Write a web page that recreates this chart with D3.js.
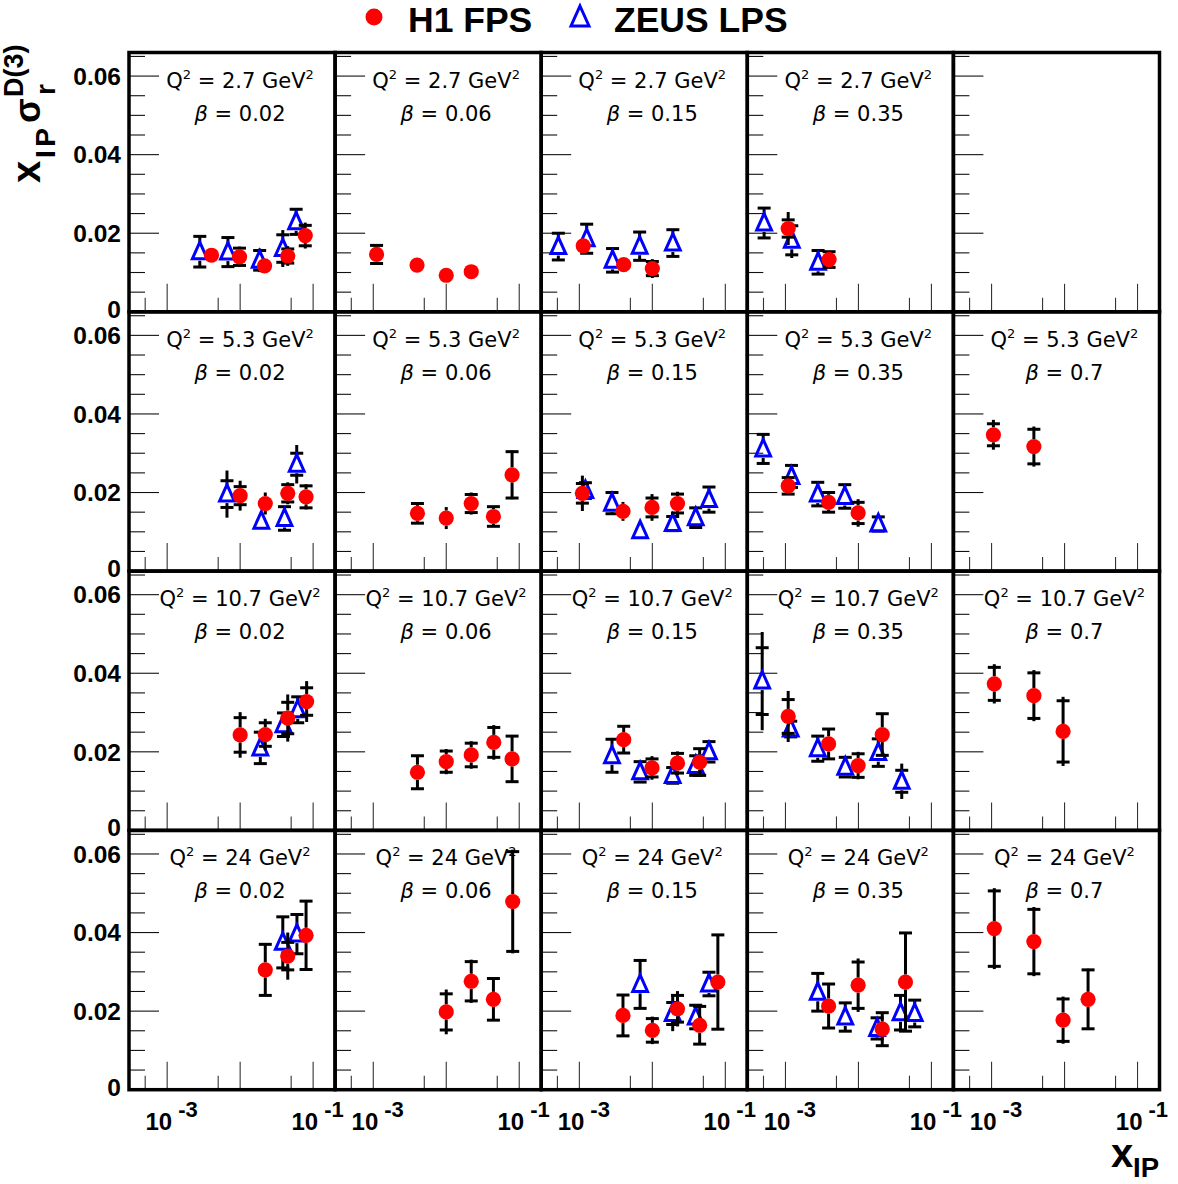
<!DOCTYPE html>
<html><head><meta charset="utf-8">
<script src="https://cdn.jsdelivr.net/npm/d3@7"></script>
<style>body{margin:0;background:#fff}</style>
</head><body><svg id="c" width="1178" height="1184" xmlns="http://www.w3.org/2000/svg"></svg>
<script>
// ---- categories / tick labels ----
const q2Labels = ["2.7", "5.3", "10.7", "24"];
const betaLabels = ["0.02", "0.06", "0.15", "0.35", "0.7"];
const yTickValues = [0, 0.02, 0.04, 0.06];
const yTickLabels = ["0", "0.02", "0.04", "0.06"];
const xLabelTicks = [1e-3, 1e-1];
const xLabelExponents = ["-3", "-1"];
const seriesNames = ["H1 FPS", "ZEUS LPS"];

// ---- H1 FPS: [betaIndex, xIP, value, statErr, totErr] ----
const h1_q27 = [
  [0, 4.05e-3, 0.0144, 0.0010, 0.0010], [0, 9.8e-3, 0.0140, 0.0022, 0.0026], [0, 0.0216, 0.0117, 0.0012, 0.0015],
  [0, 0.0449, 0.0142, 0.0018, 0.0025], [0, 0.078, 0.0194, 0.0026, 0.0033],
  [1, 1.11e-3, 0.0146, 0.0023, 0.0023], [1, 3.98e-3, 0.0119, 0.0008, 0.0008], [1, 0.010, 0.0093, 0.0007, 0.0007], [1, 0.022, 0.0102, 0.0008, 0.0008],
  [2, 1.13e-3, 0.0168, 0.0010, 0.0010], [2, 4.05e-3, 0.0120, 0.0010, 0.0010], [2, 0.010, 0.0110, 0.0018, 0.0024],
  [3, 1.09e-3, 0.0212, 0.0022, 0.0042], [3, 3.96e-3, 0.0133, 0.0020, 0.0020]
];
const h1_q53 = [
  [0, 0.010, 0.0192, 0.0023, 0.0038], [0, 0.0221, 0.0172, 0.0010, 0.0028], [0, 0.0449, 0.0198, 0.0022, 0.0028], [0, 0.080, 0.0189, 0.0028, 0.0032],
  [1, 4.03e-3, 0.0147, 0.0025, 0.0025], [1, 0.010, 0.0135, 0.0010, 0.0028], [1, 0.022, 0.0172, 0.0023, 0.0028], [1, 0.0443, 0.0139, 0.0025, 0.0025], [1, 0.0798, 0.0245, 0.0059, 0.0062],
  [2, 1.10e-3, 0.0198, 0.0025, 0.0045], [2, 3.96e-3, 0.0152, 0.0010, 0.0024], [2, 9.9e-3, 0.0162, 0.0024, 0.0034], [2, 0.0221, 0.0172, 0.0024, 0.0030],
  [3, 1.09e-3, 0.0217, 0.0021, 0.0021], [3, 3.9e-3, 0.0175, 0.0025, 0.0025], [3, 9.9e-3, 0.0148, 0.0027, 0.0035],
  [4, 1.06e-3, 0.0347, 0.0028, 0.0038], [4, 3.8e-3, 0.0317, 0.0044, 0.0051]
];
const h1_q107 = [
  [0, 0.010, 0.0243, 0.0044, 0.0058], [0, 0.0221, 0.0244, 0.0030, 0.0040], [0, 0.0449, 0.0286, 0.0040, 0.0060], [0, 0.0815, 0.0328, 0.0035, 0.0052],
  [1, 4.03e-3, 0.0148, 0.0042, 0.0042], [1, 0.010, 0.0175, 0.0027, 0.0032], [1, 0.022, 0.0192, 0.0030, 0.0035], [1, 0.0448, 0.0224, 0.0038, 0.0044], [1, 0.0798, 0.0182, 0.0058, 0.0058],
  [2, 4.05e-3, 0.0231, 0.0034, 0.0034], [2, 9.9e-3, 0.0159, 0.0023, 0.0030], [2, 0.0221, 0.0171, 0.0025, 0.0030], [2, 0.0445, 0.0174, 0.0034, 0.0034],
  [3, 1.09e-3, 0.0290, 0.0043, 0.0065], [3, 3.9e-3, 0.0220, 0.0038, 0.0038], [3, 9.9e-3, 0.0165, 0.0030, 0.0035], [3, 0.0212, 0.0244, 0.0053, 0.0053],
  [4, 1.09e-3, 0.0373, 0.0042, 0.0050], [4, 3.8e-3, 0.0343, 0.0058, 0.0065], [4, 9.55e-3, 0.0252, 0.0078, 0.0088]
];
const h1_q24 = [
  [0, 0.0221, 0.0305, 0.0065, 0.0065], [0, 0.0449, 0.0340, 0.0035, 0.0060], [0, 0.080, 0.0393, 0.0087, 0.0087],
  [1, 0.010, 0.0198, 0.0046, 0.0057], [1, 0.022, 0.0276, 0.0050, 0.0055], [1, 0.0443, 0.0230, 0.0053, 0.0053], [1, 0.0814, 0.0479, 0.0127, 0.0132],
  [2, 3.96e-3, 0.0189, 0.0052, 0.0052], [2, 0.010, 0.0151, 0.0030, 0.0035], [2, 0.0221, 0.0206, 0.0034, 0.0045], [2, 0.0445, 0.0164, 0.0048, 0.0048], [2, 0.079, 0.0274, 0.0120, 0.0120],
  [3, 3.9e-3, 0.0213, 0.0056, 0.0056], [3, 9.9e-3, 0.0266, 0.0059, 0.0068], [3, 0.0212, 0.0154, 0.0042, 0.0042], [3, 0.0441, 0.0274, 0.0125, 0.0125],
  [4, 1.09e-3, 0.0410, 0.0096, 0.0103], [4, 3.8e-3, 0.0377, 0.0082, 0.0088], [4, 9.55e-3, 0.0177, 0.0054, 0.0060], [4, 0.021, 0.0230, 0.0075, 0.0078]
];

// ---- ZEUS LPS: [betaIndex, xIP, value, statErr, totErr] ----
const zeus_q27 = [
  [0, 2.8e-3, 0.0153, 0.0039, 0.0039], [0, 6.8e-3, 0.0152, 0.0037, 0.0037], [0, 0.0185, 0.0131, 0.0025, 0.0030], [0, 0.0384, 0.0161, 0.0035, 0.0047], [0, 0.0585, 0.0229, 0.0032, 0.0032],
  [2, 5.15e-4, 0.0166, 0.0034, 0.0034], [2, 1.26e-3, 0.0186, 0.0037, 0.0037], [2, 2.85e-3, 0.0131, 0.0030, 0.0030], [2, 6.7e-3, 0.0167, 0.0036, 0.0036], [2, 0.0191, 0.0175, 0.0034, 0.0034],
  [3, 5.1e-4, 0.0226, 0.0038, 0.0038], [3, 1.22e-3, 0.0182, 0.0037, 0.0045], [3, 2.8e-3, 0.0126, 0.0030, 0.0030]
];
const zeus_q53 = [
  [0, 6.6e-3, 0.0196, 0.0034, 0.0060], [0, 0.0195, 0.0127, 0.0008, 0.0008], [0, 0.0405, 0.0134, 0.0030, 0.0030], [0, 0.0596, 0.0272, 0.0028, 0.0049],
  [2, 1.21e-3, 0.0205, 0.0020, 0.0020], [2, 2.8e-3, 0.0173, 0.0027, 0.0027], [2, 6.8e-3, 0.0103, 0.0008, 0.0008], [2, 0.019, 0.0121, 0.0018, 0.0018], [2, 0.0393, 0.0136, 0.0025, 0.0025], [2, 0.0597, 0.0182, 0.0032, 0.0032],
  [3, 4.95e-4, 0.0311, 0.0037, 0.0037], [3, 1.21e-3, 0.0241, 0.0028, 0.0028], [3, 2.77e-3, 0.0196, 0.0030, 0.0030], [3, 6.5e-3, 0.0190, 0.0030, 0.0030], [3, 0.0187, 0.0120, 0.0018, 0.0018]
];
const zeus_q107 = [
  [0, 0.0189, 0.0210, 0.0040, 0.0040], [0, 0.0392, 0.0269, 0.0030, 0.0030], [0, 0.0615, 0.0307, 0.0033, 0.0033],
  [2, 2.8e-3, 0.0190, 0.0042, 0.0042], [2, 6.8e-3, 0.0149, 0.0026, 0.0026], [2, 0.019, 0.0140, 0.0020, 0.0020], [2, 0.0393, 0.0165, 0.0025, 0.0025], [2, 0.0597, 0.0200, 0.0026, 0.0026],
  [3, 4.8e-4, 0.0380, 0.0085, 0.0125], [3, 1.18e-3, 0.0258, 0.0020, 0.0020], [3, 2.77e-3, 0.0208, 0.0032, 0.0032], [3, 6.6e-3, 0.0161, 0.0025, 0.0025], [3, 0.0187, 0.0198, 0.0035, 0.0035], [3, 0.0392, 0.0125, 0.0028, 0.0045]
];
const zeus_q24 = [
  [0, 0.0384, 0.0375, 0.0065, 0.0065], [0, 0.060, 0.0396, 0.0050, 0.0050],
  [2, 6.8e-3, 0.0268, 0.0061, 0.0061], [2, 0.019, 0.0194, 0.0028, 0.0045], [2, 0.0393, 0.0185, 0.0030, 0.0030], [2, 0.0597, 0.0269, 0.0030, 0.0030],
  [3, 2.77e-3, 0.0248, 0.0048, 0.0048], [3, 6.6e-3, 0.0185, 0.0036, 0.0036], [3, 0.018, 0.0156, 0.0027, 0.0027], [3, 0.0377, 0.0196, 0.0044, 0.0044], [3, 0.059, 0.0194, 0.0034, 0.0034]
];

const h1Rows = [h1_q27, h1_q53, h1_q107, h1_q24];
const zeusRows = [zeus_q27, zeus_q53, zeus_q107, zeus_q24];
const emptyPanels = [[0, 4]];

// ---- layout ----
const svg = d3.select("#c");
const L = 129, T = 52.5, PW = 206.1, PH = 259.3;
const FONT = "'Liberation Sans', Arial, Helvetica, sans-serif";
const PFONT = "'DejaVu Sans', sans-serif";
const x = d3.scaleLog().domain([3e-4, 0.2]).range([0, PW]);
const y = d3.scaleLinear().domain([0, 0.066]).range([PH, 0]);

const triPath = "M0,-9.5L7.4,7L-7.4,7Z";
const triLegend = "M0,-11L9,9L-9,9Z";

function drawErrors(g, pts, halfMarker) {
  pts.forEach(p => {
    const px = x(p[1]), py = y(p[2]);
    const yT = y(p[2] + p[4]), yB = y(p[2] - p[4]);
    const sT = y(p[2] + p[3]), sB = y(p[2] - p[3]);
    if (py - yT > halfMarker) g.append("line").attr("x1", px).attr("x2", px).attr("y1", yT).attr("y2", py - halfMarker);
    if (yB - py > halfMarker) g.append("line").attr("x1", px).attr("x2", px).attr("y1", py + halfMarker).attr("y2", yB);
    if (py - sT > halfMarker - 2) {
      g.append("line").attr("x1", px - 6.5).attr("x2", px + 6.5).attr("y1", sT).attr("y2", sT);
      g.append("line").attr("x1", px - 6.5).attr("x2", px + 6.5).attr("y1", sB).attr("y2", sB);
    }
  });
}

for (let r = 0; r < 4; r++) {
  for (let c = 0; c < 5; c++) {
    const g = svg.append("g").attr("transform", `translate(${L + c * PW},${T + r * PH})`);
    const empty = emptyPanels.some(e => e[0] === r && e[1] === c);
    // y ticks
    d3.range(0, 14).forEach(i => {
      const v = i * 0.005;
      const major = i % 4 === 0;
      g.append("line").attr("x1", 0).attr("x2", major ? 30 : 16)
        .attr("y1", y(v)).attr("y2", y(v)).attr("stroke", "#111").attr("stroke-width", 1.1);
    });
    // x ticks
    [5e-4, 1e-3, 5e-3, 1e-2, 5e-2, 1e-1].forEach(v => {
      const major = Math.abs(Math.log10(v) - Math.round(Math.log10(v))) < 1e-6;
      g.append("line").attr("x1", x(v)).attr("x2", x(v))
        .attr("y1", PH).attr("y2", PH - (major ? 28 : 14)).attr("stroke", "#333").attr("stroke-width", 1.1);
    });
    if (!empty) {
      const t1 = g.append("text").attr("x", 111).attr("y", 35).attr("text-anchor", "middle")
        .attr("font-family", PFONT).attr("font-size", 21).attr("fill", "#000");
      t1.append("tspan").text("Q");
      t1.append("tspan").attr("font-size", 13).attr("dy", -9).text("2");
      t1.append("tspan").attr("dy", 9).text(" = " + q2Labels[r] + " GeV");
      t1.append("tspan").attr("font-size", 13).attr("dy", -9).text("2");
      const t2 = g.append("text").attr("x", 111).attr("y", 68).attr("text-anchor", "middle")
        .attr("font-family", PFONT).attr("font-size", 21).attr("fill", "#000");
      t2.append("tspan").attr("font-style", "italic").text("β");
      t2.append("tspan").text(" = " + betaLabels[c]);

      const zp = zeusRows[r].filter(p => p[0] === c);
      const hp = h1Rows[r].filter(p => p[0] === c);
      const eg1 = g.append("g").attr("stroke", "#000").attr("stroke-width", 3);
      drawErrors(eg1, zp, 9);
      g.append("g").selectAll("path").data(zp).join("path")
        .attr("d", triPath).attr("transform", p => `translate(${x(p[1])},${y(p[2])})`)
        .attr("fill", "none").attr("stroke", "#0000ff").attr("stroke-width", 3).attr("stroke-linejoin", "miter");
      const eg2 = g.append("g").attr("stroke", "#000").attr("stroke-width", 3);
      drawErrors(eg2, hp, 7.5);
      g.append("g").selectAll("circle").data(hp).join("circle")
        .attr("cx", p => x(p[1])).attr("cy", p => y(p[2])).attr("r", 7.6).attr("fill", "#ff0000");
    }
    g.append("rect").attr("x", 0).attr("y", 0).attr("width", PW).attr("height", PH)
      .attr("fill", "none").attr("stroke", "#000").attr("stroke-width", 3.5);

    // y labels (first column)
    if (c === 0) {
      yTickValues.forEach((v, i) => {
        g.append("text").attr("x", -8).attr("y", y(v) + (v === 0 ? -3 : 0)).attr("dy", "0.36em")
          .attr("text-anchor", "end").attr("font-family", FONT).attr("font-weight", "bold")
          .attr("font-size", 24.5).text(yTickLabels[i]);
      });
    }
    // x labels (bottom row)
    if (r === 3) {
      xLabelTicks.forEach((v, i) => {
        const tx = x(v);
        g.append("text").attr("x", tx + 5).attr("y", PH + 40).attr("text-anchor", "end")
          .attr("font-family", FONT).attr("font-weight", "bold").attr("font-size", 24).text("10");
        g.append("text").attr("x", tx + 11).attr("y", PH + 27).attr("text-anchor", "start")
          .attr("font-family", FONT).attr("font-weight", "bold").attr("font-size", 22).text(xLabelExponents[i]);
      });
    }
  }
}

// ---- legend ----
svg.append("circle").attr("cx", 374).attr("cy", 17).attr("r", 8.5).attr("fill", "#ff0000");
svg.append("text").attr("x", 408).attr("y", 32).attr("font-family", FONT).attr("font-weight", "bold")
  .attr("font-size", 35.5).text(seriesNames[0]);
svg.append("path").attr("d", triLegend).attr("transform", "translate(580,17)")
  .attr("fill", "none").attr("stroke", "#0000ff").attr("stroke-width", 3);
svg.append("text").attr("x", 614).attr("y", 32).attr("font-family", FONT).attr("font-weight", "bold")
  .attr("font-size", 35.5).text(seriesNames[1]);

// ---- y title ----
const yt = svg.append("g").attr("transform", "translate(40,183) rotate(-90)")
  .attr("font-family", FONT).attr("font-weight", "bold");
yt.append("text").attr("x", 0).attr("y", 0).attr("font-size", 40).text("x");
yt.append("text").attr("x", 25).attr("y", 15).attr("font-size", 28).attr("textLength", 30).attr("lengthAdjust", "spacing").text("IP");
yt.append("text").attr("x", 60).attr("y", 0).attr("font-size", 36).text("σ");
yt.append("text").attr("x", 88).attr("y", 15).attr("font-size", 28).text("r");
yt.append("text").attr("x", 86).attr("y", -17).attr("font-size", 27).text("D(3)");

// ---- x title ----
const xt = svg.append("g").attr("font-family", FONT).attr("font-weight", "bold");
xt.append("text").attr("x", 1111).attr("y", 1167).attr("font-size", 40).text("x");
xt.append("text").attr("x", 1133).attr("y", 1177).attr("font-size", 27).attr("textLength", 26).attr("lengthAdjust", "spacingAndGlyphs").text("IP");
</script>
</body></html>
